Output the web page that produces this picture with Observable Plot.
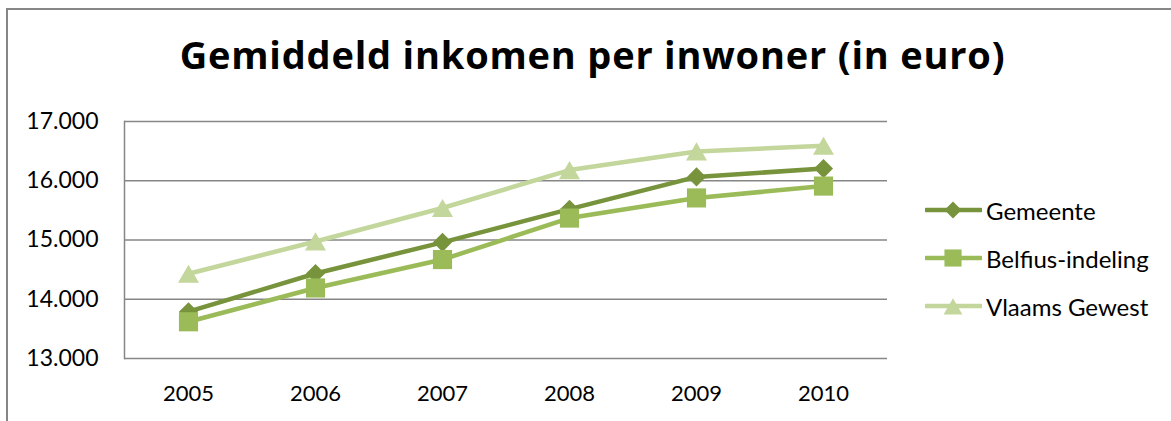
<!DOCTYPE html>
<html>
<head>
<meta charset="utf-8">
<script src="https://cdn.jsdelivr.net/npm/d3@7"></script>
<script src="https://cdn.jsdelivr.net/npm/@observablehq/plot@0.6"></script>
<style>
  html, body { margin: 0; padding: 0; background: #fff; }
  body { width: 1171px; height: 421px; position: relative; overflow: hidden; font-family: Lato, "Open Sans", sans-serif; }
  #frame { position: absolute; left: 6px; top: 8px; right: -10px; bottom: -10px; border-left: 2px solid #868686; border-top: 2px solid #868686; }
  #title { position: absolute; left: 0; width: 1185px; top: 30px; text-align: center; font-family: "Open Sans", Lato, sans-serif; font-size: 38px; letter-spacing: 0.8px; font-weight: bold; color: #000; white-space: nowrap; line-height: 48px; }
  #chart { position: absolute; left: 0; top: 100px; }
  #legend { position: absolute; left: 925px; top: 0; }
  .item { position: absolute; left: 0; height: 30px; display: flex; align-items: center; white-space: nowrap; font-size: 24px; color: #000; }
  .item svg { display: block; margin-right: 4px; }
</style>
</head>
<body>
<div id="frame"></div>
<div id="title">Gemiddeld inkomen per inwoner (in euro)</div>
<div id="chart"></div>
<div id="legend"></div>
<script>
const years = ["2005", "2006", "2007", "2008", "2009", "2010"];
const gemeente = [13790, 14435, 14960, 15520, 16065, 16205];
const belfius  = [13620, 14190, 14670, 15370, 15710, 15910];
const vlaams   = [14430, 14975, 15540, 16180, 16495, 16590];
const yTicks = [13000, 14000, 15000, 16000, 17000];
const seriesNames = ["Gemeente", "Belfius-indeling", "Vlaams Gewest"];
const seriesColors = ["#77933C", "#9BBB59", "#C3D69B"];
const seriesSymbols = ["diamond2", "square", "triangle"];
const seriesR = [8.6, 10.8, 7.8];
const seriesDy = [0, 0, 3];

const seriesValues = [gemeente, belfius, vlaams];
const fmt = d => d3.format(",")(d).replace(/,/g, ".");

const marks = [
  Plot.ruleY(yTicks, {stroke: "#868686", strokeWidth: 1.5}),
  Plot.frame({anchor: "left", stroke: "#868686", strokeWidth: 1.5}),
  Plot.axisY(yTicks, {tickSize: 0, tickPadding: 26, tickFormat: fmt, fontSize: 23, fill: "#000"}),
  Plot.axisX({tickSize: 0, tickPadding: 27, fontSize: 22, fill: "#000"})
];
seriesValues.forEach((vals, i) => {
  const rows = years.map((y, j) => ({year: y, value: vals[j]}));
  marks.push(Plot.line(rows, {x: "year", y: "value", stroke: seriesColors[i], strokeWidth: 4.5, strokeLinejoin: "round", strokeLinecap: "round"}));
  marks.push(Plot.dot(rows, {x: "year", y: "value", symbol: () => seriesSymbols[i], fill: seriesColors[i], stroke: "none", r: seriesR[i], dy: seriesDy[i]}));
});

const chart = Plot.plot({
  width: 900,
  height: 321,
  marginLeft: 124,
  marginRight: 13,
  marginTop: 21,
  marginBottom: 63,
  style: {fontFamily: "Lato, 'Open Sans', sans-serif", fontSize: "22px", background: "transparent", overflow: "visible"},
  x: {type: "point", domain: years, padding: 0.5, label: null},
  y: {domain: [13000, 17000], label: null},
  symbol: {type: "identity"},
  marks
});
document.getElementById("chart").appendChild(chart);

// Legend
const legend = document.getElementById("legend");
const rowY = [210, 258, 306];
seriesNames.forEach((name, i) => {
  const item = document.createElement("div");
  item.className = "item";
  item.style.top = (rowY[i] - 15) + "px";
  const svg = d3.create("svg").attr("width", 57).attr("height", 30);
  svg.append("line").attr("x1", 1).attr("x2", 56).attr("y1", 15).attr("y2", 15)
    .attr("stroke", seriesColors[i]).attr("stroke-width", 4.5).attr("stroke-linecap", "round");
  const symMap = {diamond2: d3.symbolDiamond2, square: d3.symbolSquare, triangle: d3.symbolTriangle};
  svg.append("path")
    .attr("d", d3.symbol(symMap[seriesSymbols[i]], Math.PI * seriesR[i] * seriesR[i] * 0.8)())
    .attr("transform", `translate(28,${15 + seriesDy[i]})`)
    .attr("fill", seriesColors[i]);
  item.appendChild(svg.node());
  const span = document.createElement("span");
  span.textContent = name;
  item.appendChild(span);
  legend.appendChild(item);
});
</script>
</body>
</html>
